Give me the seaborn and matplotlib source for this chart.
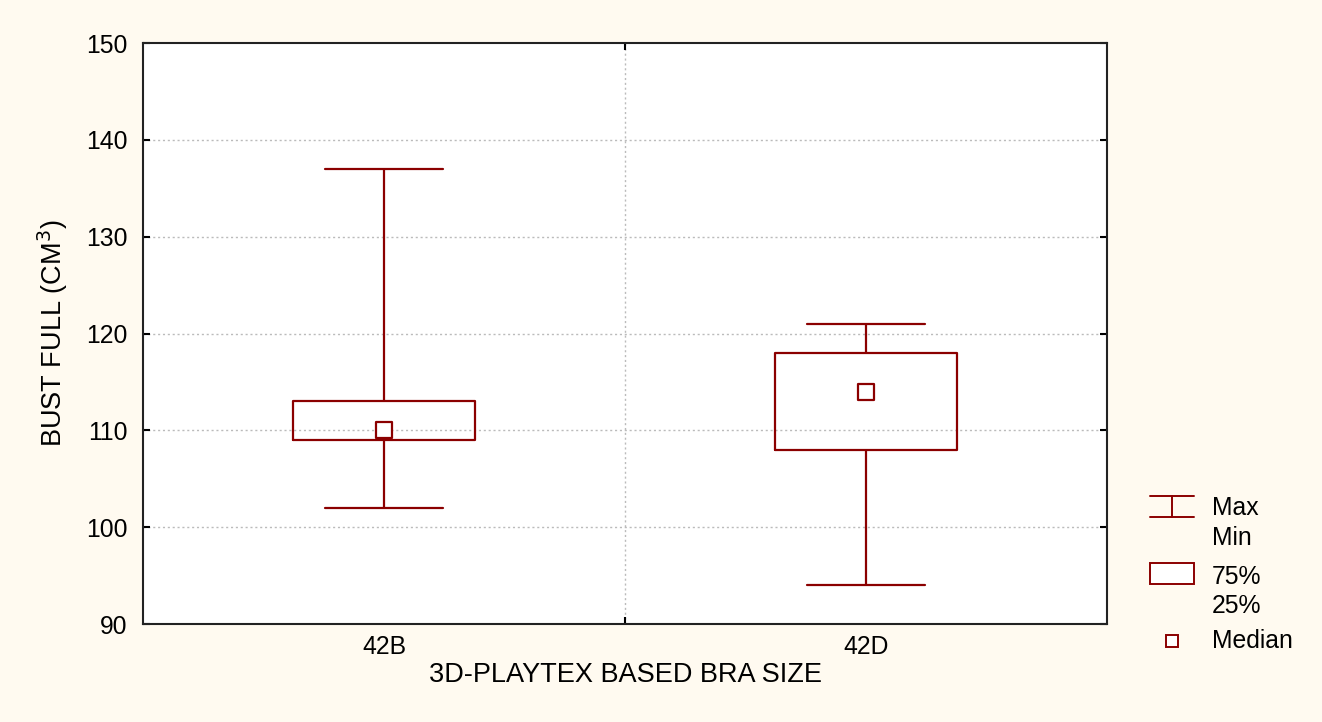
import numpy as np
import pandas as pd
import matplotlib
matplotlib.use("Agg")
import matplotlib.pyplot as plt
from matplotlib.lines import Line2D
from matplotlib.patches import Rectangle
import seaborn as sns

# Five-number summaries per bra size
sizes = ["42B", "42D"]
minimum = [102, 94]
q1 = [109, 108]
median = [110, 114]
q3 = [113, 118]
maximum = [137, 121]

y_ticks = [90, 100, 110, 120, 130, 140, 150]

RED = "#8B0000"
BG = "#FFFAF0"
FS = 17.8
FS_LABEL = 19.5

sns.set_theme(style="white")
plt.rcParams["font.family"] = ["Liberation Sans", "DejaVu Sans"]
plt.rcParams["text.color"] = "black"
plt.rcParams["axes.labelcolor"] = "black"
plt.rcParams["xtick.color"] = "black"
plt.rcParams["ytick.color"] = "black"

# Long table of the summary points; linear percentiles reproduce the quartiles
rows = []
for i, s in enumerate(sizes):
    for v in (minimum[i], q1[i], median[i], q3[i], maximum[i]):
        rows.append({"size": s, "bust": v})
df = pd.DataFrame(rows)
med_df = pd.DataFrame({"size": sizes, "bust": median})

fig = plt.figure(figsize=(13.22, 7.22), dpi=100, facecolor=BG)
ax = fig.add_axes([0.1082, 0.1357, 0.7292, 0.8047])
ax.set_facecolor("white")

sns.boxplot(
    data=df, x="size", y="bust", ax=ax, whis=(0, 100), showfliers=False,
    width=0.378, fill=False, color=RED, linewidth=1.6,
    boxprops=dict(color=RED), whiskerprops=dict(color=RED),
    capprops=dict(color=RED), medianprops=dict(visible=False),
    capwidths=0.243,
)
sns.scatterplot(
    data=med_df, x="size", y="bust", ax=ax, marker="s", s=120,
    facecolor="white", edgecolor=RED, linewidth=1.6, zorder=5,
)

ax.set_xlim(-0.5, 1.5)
ax.set_ylim(90, 150)
ax.set_yticks(y_ticks)
ax.set_xticks([0, 1])
ax.set_xticklabels(sizes)
ax.set_xticks([0.5], minor=True)

# Dotted grid
for y in y_ticks[1:-1]:
    ax.axhline(y, color="#BBBBBB", linestyle=(0, (1.5, 2)), linewidth=1.0, zorder=0)
ax.axvline(0.5, color="#BBBBBB", linestyle=(0, (1.5, 2)), linewidth=1.0, zorder=0)

for sp in ax.spines.values():
    sp.set_visible(True)
    sp.set_color("#222222")
    sp.set_linewidth(1.5)

ax.tick_params(axis="y", which="major", direction="in", length=5, width=1.5,
               left=True, right=True, labelsize=FS, labelcolor="black", pad=11)
ax.tick_params(axis="x", which="major", length=0, labelsize=FS,
               labelcolor="black", pad=8)
ax.tick_params(axis="x", which="minor", direction="in", length=5, width=1.5,
               bottom=True, top=True)

ax.set_xlabel("3D-PLAYTEX BASED BRA SIZE", fontsize=FS_LABEL, labelpad=2, color="black")
ax.set_ylabel("BUST FULL (CM$^3$)", fontsize=FS_LABEL, labelpad=12, color="black")

# Legend drawn beside the axes
def fx(px):
    return px / 1322

def fy(py):
    return 1 - py / 722

lw = 1.4
fig.add_artist(Line2D([fx(1150), fx(1194)], [fy(496), fy(496)], color=RED, lw=lw))
fig.add_artist(Line2D([fx(1150), fx(1194)], [fy(517), fy(517)], color=RED, lw=lw))
fig.add_artist(Line2D([fx(1172), fx(1172)], [fy(496), fy(517)], color=RED, lw=lw))
fig.add_artist(Rectangle((fx(1150), fy(584)), fx(1194) - fx(1150), fy(563) - fy(584),
                         facecolor="white", edgecolor=RED, lw=lw))
fig.add_artist(Rectangle((fx(1166), fy(647)), fx(1178) - fx(1166), fy(635) - fy(647),
                         facecolor="white", edgecolor=RED, lw=lw))
for txt, py in [("Max", 508), ("Min", 538), ("75%", 577), ("25%", 606), ("Median", 641)]:
    fig.text(fx(1212), fy(py), txt, fontsize=FS, va="center", ha="left", color="black")

fig.savefig("out.png", dpi=100, facecolor=BG)
